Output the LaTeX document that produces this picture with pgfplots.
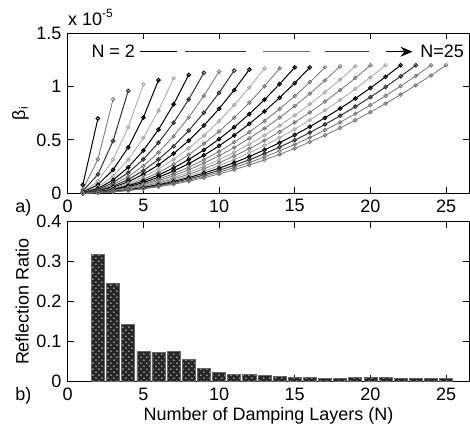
\documentclass[border=0pt]{standalone}
\usepackage{fontspec}
\setmainfont{Liberation Sans}
\usepackage{pgfplots}
\pgfplotsset{compat=1.18}
\usetikzlibrary{patterns,arrows.meta}
\begin{document}
\fontsize{9pt}{11pt}\selectfont
\begin{tikzpicture}
\pgfplotsset{
  every axis/.append style={
    scale only axis, width=201pt, height=80pt, clip=false,
    xmin=0, xmax=26.54, xtick={0,5,10,15,20,25},
    tick align=inside, major tick length=3pt,
    /pgf/number format/assume math mode=true,
    tick label style={font=\fontsize{9pt}{11pt}\selectfont},
    label style={font=\fontsize{9pt}{11pt}\selectfont},
    axis line style={line width=0.5pt},
    every tick/.style={black, line width=0.4pt},
    ylabel shift=-2.5pt,
  },
  c0/.style={black, line width=0.5pt, mark=o, mark size=0.9pt},
  c1/.style={black!55, line width=0.4pt, mark=o, mark size=0.9pt},
  c2/.style={black!80, line width=0.5pt, mark=o, mark size=0.9pt},
  c3/.style={black!35, line width=0.4pt, mark=o, mark size=0.9pt},
}
% ---------- top axis ----------
\begin{axis}[name=top, at={(0pt,94.2pt)}, anchor=south west,
  ymin=0, ymax=1.5, ytick={0,0.5,1,1.5},
  ylabel={β\textsubscript{i}}]
\addplot[c0] coordinates {(1,0.078)(2,0.700)};
\addplot[c1] coordinates {(1,0.035)(2,0.317)(3,0.880)};
\addplot[c2] coordinates {(1,0.020)(2,0.176)(3,0.490)(4,0.960)};
\addplot[c3] coordinates {(1,0.013)(2,0.113)(3,0.315)(4,0.617)(5,1.020)};
\addplot[c0] coordinates {(1,0.009)(2,0.079)(3,0.219)(4,0.429)(5,0.710)(6,1.060)};
\addplot[c3] coordinates {(1,0.006)(2,0.058)(3,0.160)(4,0.313)(5,0.518)(6,0.773)(7,1.080)};
\addplot[c0] coordinates {(1,0.005)(2,0.044)(3,0.123)(4,0.242)(5,0.400)(6,0.597)(7,0.834)(8,1.110)};
\addplot[c2] coordinates {(1,0.004)(2,0.035)(3,0.098)(4,0.192)(5,0.317)(6,0.473)(7,0.661)(8,0.880)(9,1.130)};
\addplot[c1] coordinates {(1,0.003)(2,0.028)(3,0.079)(4,0.155)(5,0.256)(6,0.382)(7,0.534)(8,0.711)(9,0.913)(10,1.140)};
\addplot[c2] coordinates {(1,0.003)(2,0.023)(3,0.065)(4,0.128)(5,0.211)(6,0.316)(7,0.441)(8,0.587)(9,0.754)(10,0.941)(11,1.150)};
\addplot[c0] coordinates {(1,0.002)(2,0.020)(3,0.055)(4,0.107)(5,0.178)(6,0.265)(7,0.371)(8,0.493)(9,0.634)(10,0.792)(11,0.967)(12,1.160)};
\addplot[c3] coordinates {(1,0.002)(2,0.017)(3,0.047)(4,0.092)(5,0.152)(6,0.227)(7,0.316)(8,0.421)(9,0.541)(10,0.676)(11,0.826)(12,0.990)(13,1.170)};
\addplot[c1] coordinates {(1,0.002)(2,0.014)(3,0.040)(4,0.079)(5,0.130)(6,0.194)(7,0.271)(8,0.361)(9,0.464)(10,0.579)(11,0.708)(12,0.849)(13,1.003)(14,1.170)};
\addplot[c0] coordinates {(1,0.001)(2,0.013)(3,0.035)(4,0.069)(5,0.114)(6,0.170)(7,0.237)(8,0.316)(9,0.405)(10,0.507)(11,0.619)(12,0.742)(13,0.877)(14,1.023)(15,1.180)};
\addplot[c0] coordinates {(1,0.001)(2,0.011)(3,0.031)(4,0.060)(5,0.099)(6,0.149)(7,0.208)(8,0.276)(9,0.355)(10,0.443)(11,0.542)(12,0.650)(13,0.767)(14,0.895)(15,1.033)(16,1.180)};
\addplot[c1] coordinates {(1,0.001)(2,0.010)(3,0.027)(4,0.053)(5,0.088)(6,0.131)(7,0.183)(8,0.244)(9,0.313)(10,0.391)(11,0.478)(12,0.573)(13,0.677)(14,0.790)(15,0.911)(16,1.041)(17,1.180)};
\addplot[c1] coordinates {(1,0.001)(2,0.009)(3,0.024)(4,0.048)(5,0.079)(6,0.118)(7,0.164)(8,0.219)(9,0.281)(10,0.351)(11,0.428)(12,0.514)(13,0.607)(14,0.708)(15,0.817)(16,0.934)(17,1.058)(18,1.190)};
\addplot[c3] coordinates {(1,0.001)(2,0.008)(3,0.022)(4,0.043)(5,0.070)(6,0.105)(7,0.147)(8,0.196)(9,0.251)(10,0.314)(11,0.383)(12,0.460)(13,0.543)(14,0.634)(15,0.731)(16,0.835)(17,0.947)(18,1.065)(19,1.190)};
\addplot[c1] coordinates {(1,0.001)(2,0.007)(3,0.020)(4,0.039)(5,0.064)(6,0.095)(7,0.133)(8,0.178)(9,0.228)(10,0.285)(11,0.348)(12,0.417)(13,0.493)(14,0.575)(15,0.664)(16,0.758)(17,0.859)(18,0.966)(19,1.080)(20,1.200)};
\addplot[c3] coordinates {(1,0.001)(2,0.006)(3,0.018)(4,0.035)(5,0.058)(6,0.086)(7,0.121)(8,0.161)(9,0.206)(10,0.258)(11,0.315)(12,0.378)(13,0.446)(14,0.520)(15,0.600)(16,0.686)(17,0.777)(18,0.874)(19,0.977)(20,1.086)(21,1.200)};
\addplot[c0] coordinates {(1,0.001)(2,0.006)(3,0.016)(4,0.032)(5,0.053)(6,0.079)(7,0.110)(8,0.146)(9,0.188)(10,0.234)(11,0.286)(12,0.343)(13,0.406)(14,0.473)(15,0.546)(16,0.624)(17,0.707)(18,0.795)(19,0.888)(20,0.987)(21,1.091)(22,1.200)};
\addplot[c2] coordinates {(1,0.001)(2,0.005)(3,0.015)(4,0.029)(5,0.048)(6,0.072)(7,0.100)(8,0.133)(9,0.171)(10,0.214)(11,0.261)(12,0.313)(13,0.370)(14,0.432)(15,0.498)(16,0.569)(17,0.645)(18,0.726)(19,0.811)(20,0.901)(21,0.996)(22,1.096)(23,1.200)};
\addplot[c1] coordinates {(1,0.001)(2,0.005)(3,0.014)(4,0.027)(5,0.044)(6,0.066)(7,0.092)(8,0.122)(9,0.157)(10,0.196)(11,0.240)(12,0.287)(13,0.340)(14,0.396)(15,0.457)(16,0.522)(17,0.592)(18,0.665)(19,0.744)(20,0.826)(21,0.913)(22,1.004)(23,1.100)(24,1.200)};
\addplot[c1] coordinates {(1,0.000)(2,0.004)(3,0.012)(4,0.024)(5,0.040)(6,0.060)(7,0.084)(8,0.112)(9,0.144)(10,0.180)(11,0.220)(12,0.264)(13,0.312)(14,0.364)(15,0.420)(16,0.480)(17,0.544)(18,0.612)(19,0.684)(20,0.760)(21,0.840)(22,0.924)(23,1.012)(24,1.104)(25,1.200)};
% annotation
\node[anchor=base west, inner sep=0pt] at (axis cs:1.55,1.268) {N = 2};
\node[anchor=base west, inner sep=0pt] at (axis cs:23.28,1.268) {N=25};
\draw[black, line width=0.6pt] (axis cs:4.8,1.327) -- (axis cs:7.21,1.327);
\draw[black!80, line width=0.6pt] (axis cs:7.74,1.327) -- (axis cs:11.81,1.327);
\draw[black!55, line width=0.6pt] (axis cs:12.88,1.327) -- (axis cs:15.98,1.327);
\draw[black!75, line width=0.6pt] (axis cs:16.97,1.327) -- (axis cs:19.94,1.327);
\draw[black, line width=0.6pt, -{Stealth[length=6pt,width=5pt]}] (axis cs:21.04,1.327) -- (axis cs:22.78,1.327);
\node[anchor=base west, inner sep=0pt, yshift=4pt] at (rel axis cs:0,1) {x 10\textsuperscript{-5}};
\node[anchor=base west, inner sep=0pt, xshift=-26.35pt, yshift=-9.5pt] at (rel axis cs:0,0) {a)};
\end{axis}
% ---------- bottom axis ----------
\begin{axis}[name=bot, at={(0pt,0pt)}, anchor=south west,
  ymin=0, ymax=0.4, ytick={0,0.1,0.2,0.3,0.4},
  ylabel={Reflection Ratio},
  xlabel={Number of Damping Layers (N)},
  xlabel style={yshift=3pt}]
\addplot[ybar, bar width=0.86, fill=black!85, draw=black!60, line width=0.3pt,
  postaction={pattern=crosshatch dots, pattern color=black!40}]
  coordinates {(2,0.318)(3,0.245)(4,0.143)(5,0.075)(6,0.073)(7,0.075)(8,0.055)(9,0.033)(10,0.022)(11,0.018)(12,0.018)(13,0.016)(14,0.013)(15,0.011)(16,0.010)(17,0.008)(18,0.008)(19,0.010)(20,0.010)(21,0.010)(22,0.008)(23,0.008)(24,0.008)(25,0.008)};
\node[anchor=base west, inner sep=0pt, xshift=-26.35pt, yshift=-9.5pt] at (rel axis cs:0,0) {b)};
\end{axis}
\pgfresetboundingbox
\path[use as bounding box] (-33.85pt,-22.35pt) rectangle (201.3pt,190.85pt);
\end{tikzpicture}
\end{document}
